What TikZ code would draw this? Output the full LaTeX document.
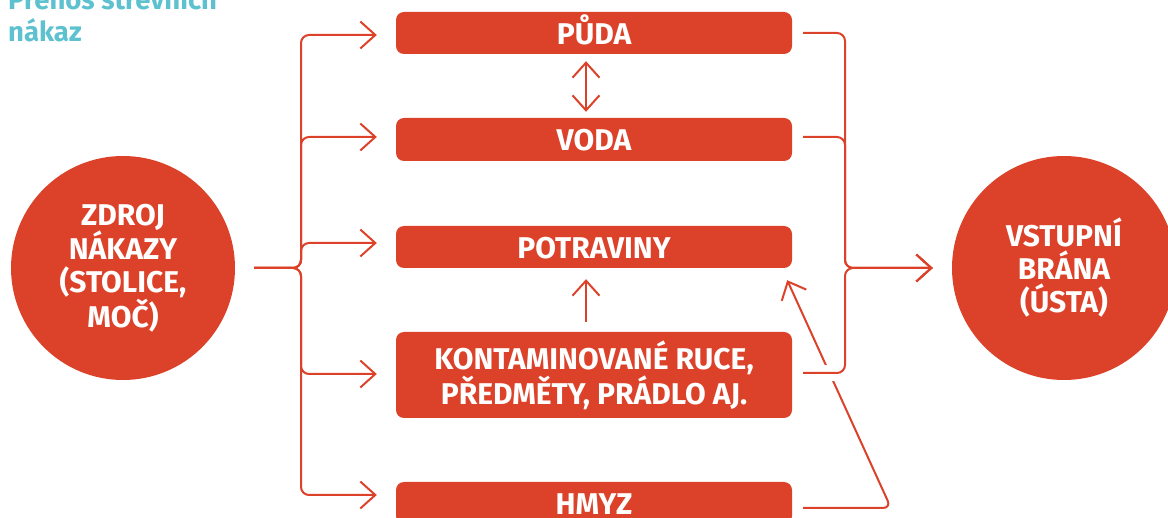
\documentclass[tikz,border=0pt]{standalone}
\usepackage{fontspec}
\setmainfont{Fira Sans}
\usetikzlibrary{arrows.meta,calc}
\definecolor{rd}{HTML}{DC4229}
\definecolor{tl}{HTML}{5DC1D0}
\tikzset{
  box/.style={fill=rd, rounded corners=8pt, minimum width=396pt, text=white,
    font=\bfseries\fontsize{30}{33}\selectfont, align=center, inner sep=0pt},
  onebox/.style={box, minimum height=42pt, text height=23pt, text depth=0pt},
  circ/.style={circle, fill=rd, minimum size=224pt, text=white,
    font=\bfseries\fontsize{30}{33}\selectfont, align=center, inner sep=0pt},
  ttl/.style={text=tl, font=\bfseries\fontsize{27.5}{32}\selectfont, inner sep=0pt, anchor=base west},
  ln/.style={draw=rd, line width=2pt, rounded corners=8pt},
  arr/.style={ln, -{Straight Barb[length=15pt,width=27pt]}},
  darr/.style={ln, {Straight Barb[length=15pt,width=27pt]}-{Straight Barb[length=15pt,width=27pt]}}
}
\begin{document}
\begin{tikzpicture}[x=1pt,y=-1pt]
\useasboundingbox (0,0) rectangle (1168,518);
% title
\node[ttl] (t1) at (8,10) {Přenos střevních};
\node[ttl] (t2) at (8,42) {nákaz};
% boxes
\node[onebox] (puda) at (594,33) {PŮDA};
\node[onebox, minimum height=43pt] (voda) at (594,139.5) {VODA};
\node[onebox] (potr) at (594,247) {POTRAVINY};
\node[box, minimum height=86pt] (kont) at (594,375) {KONTAMINOVANÉ RUCE,\\PŘEDMĚTY, PRÁDLO AJ.};
\node[onebox] (hmyz) at (594,503) {HMYZ};
% circles
\node[circ] (src) at (123,268) {ZDROJ\\NÁKAZY\\(STOLICE,\\MOČ)};
\node[circ] (dst) at (1064,268) {VSTUPNÍ\\BRÁNA\\(ÚSTA)};
% left bracket
\coordinate (ls) at ([xshift=19pt]src.east);
\coordinate (lj) at (301,268);
\foreach \n/\dy in {puda/-2, voda/2.5, potr/4, kont/1, hmyz/8}
  \draw[arr] (ls) -- (lj) |- ([xshift=-19pt,yshift=\dy pt]\n.west);
% inner arrows
\draw[darr] ([xshift=-8pt,yshift=-7pt]puda.south) -- ([xshift=-8pt,yshift=6pt]voda.north);
\draw[arr] ([xshift=-8pt,yshift=10pt]kont.north) -- ([xshift=-8pt,yshift=-11pt]potr.south);
% diagonal from HMYZ to POTRAVINY
\coordinate (dk) at (891,508);
\draw[arr] ([xshift=11pt,yshift=-5pt]hmyz.east) -- (dk) -- ([xshift=-5pt,yshift=-12pt]potr.south east);
\draw[white, line width=16pt] (816,373) -- (841,373);
% right bracket
\coordinate (rj) at (845,268);
\coordinate (re) at ([xshift=-19pt]dst.west);
\foreach \n/\dy in {puda/0, voda/2.5, kont/2}
  \draw[arr] ([xshift=11pt,yshift=\dy pt]\n.east) -| (rj) -- (re);
\end{tikzpicture}
\end{document}
